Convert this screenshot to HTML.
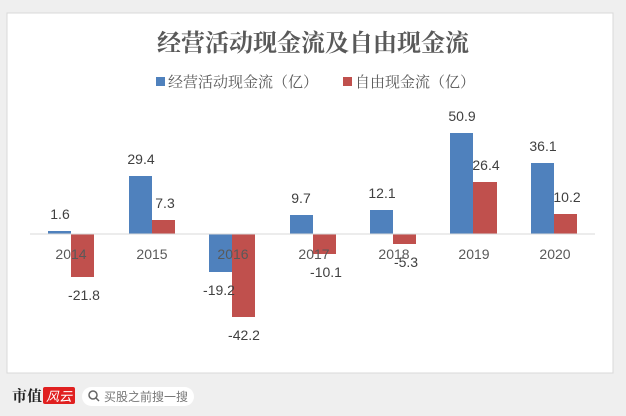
<!DOCTYPE html>
<html><head><meta charset="utf-8"><style>
body{margin:0;width:626px;height:416px;background:#efefef;overflow:hidden;font-family:"Liberation Sans","Noto Sans CJK SC",sans-serif}
</style></head><body>
<svg width="626" height="416" xmlns="http://www.w3.org/2000/svg" style="position:absolute;left:0;top:0">
<rect x="0" y="0" width="626" height="416" fill="#efefef"/>
<rect x="7" y="13" width="606" height="360" fill="#fff" stroke="#d8d8d8"/>
<text x="313" y="51" text-anchor="middle" font-family="'Noto Serif CJK SC',serif" font-weight="bold" font-size="24" fill="#595959">经营活动现金流及自由现金流</text>
<rect x="156" y="77" width="9" height="9" fill="#4f81bd"/>
<text x="168" y="87" font-family="'Noto Serif CJK SC',serif" font-size="15" fill="#595959">经营活动现金流（亿）</text>
<rect x="343" y="77" width="9" height="9" fill="#c0504d"/>
<text x="355" y="87" font-family="'Noto Serif CJK SC',serif" font-size="15" fill="#595959">自由现金流（亿）</text>
<g font-size="14" fill="#404040" text-anchor="middle">
<!-- zero y=234, scale 1.97 -->
<rect x="48" y="231" width="23" height="3" fill="#4f81bd"/><rect x="71" y="234" width="23" height="43" fill="#c0504d"/>
<text x="60" y="219">1.6</text><text x="84" y="300">-21.8</text>
<rect x="129" y="176" width="23" height="58" fill="#4f81bd"/><rect x="152" y="220" width="23" height="14" fill="#c0504d"/>
<text x="141" y="164">29.4</text><text x="165" y="208">7.3</text>
<rect x="209" y="234" width="23" height="38" fill="#4f81bd"/><rect x="232" y="234" width="23" height="83" fill="#c0504d"/>
<text x="219" y="295">-19.2</text><text x="244" y="340">-42.2</text>
<rect x="290" y="215" width="23" height="19" fill="#4f81bd"/><rect x="313" y="234" width="23" height="20" fill="#c0504d"/>
<text x="301" y="203">9.7</text><text x="326" y="277">-10.1</text>
<rect x="370" y="210" width="23" height="24" fill="#4f81bd"/><rect x="393" y="234" width="23" height="10" fill="#c0504d"/>
<text x="382" y="198">12.1</text><text x="406" y="267">-5.3</text>
<rect x="450" y="133" width="23" height="101" fill="#4f81bd"/><rect x="473" y="182" width="24" height="52" fill="#c0504d"/>
<text x="462" y="121">50.9</text><text x="486" y="170">26.4</text>
<rect x="531" y="163" width="23" height="71" fill="#4f81bd"/><rect x="554" y="214" width="23" height="20" fill="#c0504d"/>
<text x="543" y="151">36.1</text><text x="567" y="202">10.2</text>
</g>
<line x1="30" y1="234" x2="595" y2="234" stroke="#d9d9d9" stroke-width="1"/>
<g font-size="14" fill="#595959" text-anchor="middle">
<text x="71" y="259">2014</text><text x="152" y="259">2015</text><text x="233" y="259">2016</text><text x="314" y="259">2017</text><text x="394" y="259">2018</text><text x="474" y="259">2019</text><text x="555" y="259">2020</text>
</g>
<text x="12" y="401" font-family="'Noto Serif CJK SC',serif" font-weight="bold" font-size="15" fill="#222">市值</text>
<rect x="43" y="387" width="32" height="17" fill="#e02020" rx="2"/>
<text x="59" y="401" text-anchor="middle" font-size="13" fill="#fff" font-style="italic">风云</text>
<rect x="82" y="387" width="112" height="19" rx="9.5" fill="#fff"/>
<circle cx="93" cy="395" r="4" fill="none" stroke="#666" stroke-width="1.5"/><line x1="96" y1="398" x2="99" y2="401" stroke="#666" stroke-width="1.5"/>
<text x="104" y="401" font-size="12" fill="#777">买股之前搜一搜</text>
</svg>
</body></html>
